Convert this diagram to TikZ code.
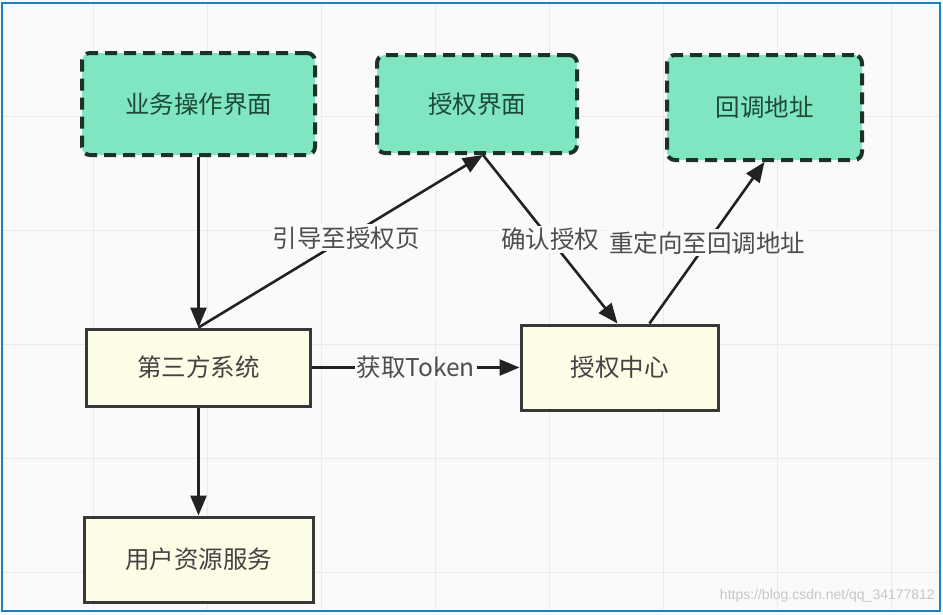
\documentclass[tikz,border=0pt]{standalone}
\usepackage{fontspec}
\setmainfont{Noto Sans CJK SC}
\newfontfamily\urlfont{Liberation Sans}
\usetikzlibrary{arrows.meta, positioning}

\definecolor{mint}{HTML}{80E6C2}
\definecolor{mintText}{HTML}{1D4A38}
\definecolor{dashInk}{HTML}{1B3326}
\definecolor{cream}{HTML}{FDFCE6}
\definecolor{ink}{HTML}{222222}
\definecolor{paper}{HTML}{FAFAFA}
\definecolor{gridLine}{HTML}{EBEBEB}
\definecolor{frameBlue}{HTML}{1A80C8}

\begin{document}
\begin{tikzpicture}[
  x=1pt, y=-1pt,
  font=\fontsize{24.5}{28}\selectfont,
  box/.style={
    draw, line width=3pt, inner sep=0pt, align=center
  },
  pageBox/.style={box, draw=dashInk, line width=4pt, dash pattern=on 12pt off 7pt,
    rounded corners=8pt, fill=mint, text=mintText},
  sysBox/.style={box, draw=ink!90, fill=cream, text=ink!85},
  flow/.style={draw=ink, line width=2.6pt,
    -{Triangle[length=20pt, width=16pt]}},
  lbl/.style={fill=paper, inner sep=2pt, text=ink!80}
]
\useasboundingbox (0,0) rectangle (943,614);
\fill[paper] (0,0) rectangle (943,614);

% grid
\foreach \gx in {93,207,321,435,549,663,777,891}
  \draw[gridLine, line width=1pt] (\gx,4) -- (\gx,610);
\foreach \gy in {116,230,344,458,572}
  \draw[gridLine, line width=1pt] (3,\gy) -- (939,\gy);

\draw[frameBlue, line width=2pt] (2,3) rectangle (940,611);

\node[pageBox, minimum width=233pt, minimum height=102pt] (biz) at (198.5,104) {业务操作界面};
\node[pageBox, minimum width=200pt, minimum height=98pt] (authUi) at (477,104) {授权界面};
\node[pageBox, minimum width=195pt, minimum height=105pt] (callback) at (764.5,107.5) {回调地址};

\node[sysBox, minimum width=224pt, minimum height=77pt] (thirdSys) at (198.5,367.5) {第三方系统};
\node[sysBox, minimum width=197pt, minimum height=85pt] (authCenter) at (619.5,367.5) {授权中心};
\node[sysBox, minimum width=229pt, minimum height=85pt] (userRes) at (198.5,559.5) {用户资源服务};

\draw[flow] (biz.south) -- (thirdSys.north);
\draw[flow] (thirdSys.north) -- ([xshift=6pt]authUi.south)
  node[lbl, pos=0.52] {引导至授权页};
\draw[flow] ([xshift=6pt]authUi.south) -- ([xshift=-2pt]authCenter.north)
  node[lbl, pos=0.5] {确认授权};
\draw[flow] ([xshift=30pt]authCenter.north) -- (callback.south)
  node[lbl, pos=0.5] {重定向至回调地址};
\draw[flow] (thirdSys.east) -- (authCenter.west)
  node[lbl, pos=0.5] {获取Token};
\draw[flow] (thirdSys.south) -- (userRes.north);

\node[anchor=east, inner sep=0pt, text=black!22, font=\urlfont\fontsize{14}{16}\selectfont]
  (mark) at (935,596) {https://blog.csdn.net/qq\_34177812};
\end{tikzpicture}
\end{document}
